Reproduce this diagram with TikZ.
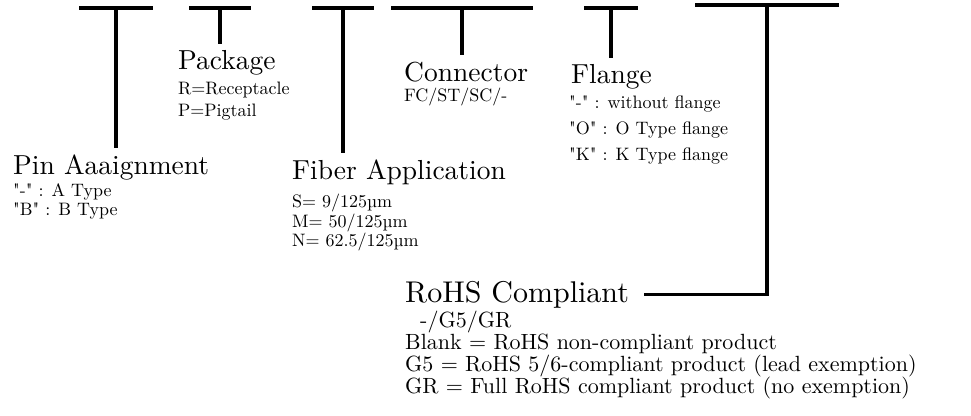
\documentclass[tikz,border=0pt]{standalone}
\usepackage{fontspec}
\usepackage{tikz}

\newfontfamily\lmten{lmroman10-regular.otf}

\tikzset{
  bar/.style={line width=4pt},
  stem/.style={line width=3.5pt, shorten >=6pt},
  heading/.style={anchor=base west, inner sep=0pt, font={\lmten\fontsize{27.5}{30}\selectfont}},
  option/.style={anchor=base west, inner sep=0pt, font={\lmten\fontsize{18}{20}\selectfont}},
  rohsopt/.style={anchor=base west, inner sep=0pt, font={\lmten\fontsize{22}{24}\selectfont}},
}

\begin{document}
\begin{tikzpicture}[x=1pt, y=-1pt]
  \useasboundingbox (0,0) rectangle (971,415);

  % Pin assignment
  \node[heading] (pin) at (13,174) {Pin Aaaignment};
  \node[option] (pinA) at (13,196) {"-" : A Type};
  \node[option] (pinB) at (13,215) {"B" : B Type};
  \coordinate (pinbar) at (116,8);
  \draw[bar] ([xshift=-37pt]pinbar) -- ([xshift=37pt]pinbar);
  \draw[stem] (pinbar) -- (pinbar |- pin.north);

  % Package
  \node[heading] (pkg) at (178,69) {Package};
  \node[option] (pkgR) at (178,94) {R=Receptacle};
  \node[option] (pkgP) at (178,116) {P=Pigtail};
  \coordinate (pkgbar) at (220,8);
  \draw[bar] ([xshift=-31pt]pkgbar) -- ([xshift=31pt]pkgbar);
  \draw[stem] (pkgbar) -- (pkgbar |- pkg.north);

  % Fiber application
  \node[heading] (fiber) at (292,179) {Fiber Application};
  \node[option] (fiberS) at (292,207) {S= 9/125µm};
  \node[option] (fiberM) at (292,227) {M= 50/125µm};
  \node[option] (fiberN) at (292,246) {N= 62.5/125µm};
  \coordinate (fiberbar) at (343,8);
  \draw[bar] ([xshift=-31pt]fiberbar) -- ([xshift=31pt]fiberbar);
  \draw[stem] (fiberbar) -- (fiberbar |- fiber.north);

  % Connector
  \node[heading] (conn) at (404,81) {Connector};
  \node[option] (connT) at (404,101) {FC/ST/SC/-};
  \coordinate (connbar) at (462,8);
  \draw[bar] ([xshift=-71pt]connbar) -- ([xshift=71pt]connbar);
  \draw[stem] (connbar) -- (connbar |- conn.north);

  % Flange
  \node[heading] (flange) at (571,83) {Flange};
  \node[option] (flangeN) at (569,108) {"-" : without flange};
  \node[option] (flangeO) at (569,134) {"O" : O Type flange};
  \node[option] (flangeK) at (569,160) {"K" : K Type flange};
  \coordinate (flangebar) at (611,8);
  \draw[bar] ([xshift=-27pt]flangebar) -- ([xshift=27pt]flangebar);
  \draw[stem] (flangebar) -- (flangebar |- flange.north);

  % RoHS
  \node[heading, font={\lmten\fontsize{30}{32}\selectfont}] (rohs) at (405,302) {RoHS Compliant};
  \node[rohsopt] (rohscode) at (420,327) {-/G5/GR};
  \node[rohsopt] (blank) at (405,349) {Blank = RoHS non-compliant product};
  \node[rohsopt] (gfive) at (405,371) {G5 = RoHS 5/6-compliant product (lead exemption)};
  \node[rohsopt] (gfull) at (405,393) {GR = Full RoHS compliant product (no exemption)};
  \coordinate (rohsbar) at (767,5);
  \draw[bar] ([xshift=-72pt]rohsbar) -- ([xshift=72pt]rohsbar);
  \draw[stem, shorten >=0pt] (rohsbar) |- ([xshift=15pt]rohs.east);

\end{tikzpicture}
\end{document}
